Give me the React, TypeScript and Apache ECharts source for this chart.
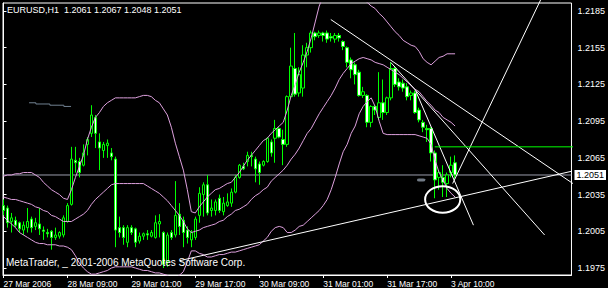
import React, { useEffect, useRef } from "react";
import * as echarts from "echarts";

const symbolName = "EURUSD,H1";
const copyrightText = "MetaTrader, _ 2001-2006 MetaQuotes Software Corp.";

const opens = [1.2026,1.2024,1.2013,1.2014,1.2012,1.2006,1.2008,1.2015,1.2009,1.2011,
1.2006,1.2004,1.2005,1.2000,1.2001,1.2002,1.2013,1.2027,1.2063,1.2062,
1.2059,1.2076,1.2085,1.2098,1.2078,1.2071,1.2075,1.2069,1.2064,1.2008,
1.2008,1.1996,1.2008,1.2007,1.1997,1.2001,1.2003,1.2001,1.2000,1.2011,
1.2004,1.1980,1.2004,1.2002,1.2019,1.2014,1.2006,1.1998,1.2000,1.2018,
1.2035,1.2043,1.2022,1.2022,1.2032,1.2021,1.2026,1.2028,1.2037,1.2049,
1.2058,1.2062,1.2067,1.2064,1.2060,1.2059,1.2062,1.2078,1.2081,1.2089,
1.2080,1.2076,1.2115,1.2138,1.2118,1.2122,1.2149,1.2155,1.2167,1.2165,
1.2167,1.2167,1.2164,1.2162,1.2165,1.2160,1.2155,1.2145,1.2141,1.2135,
1.2116,1.2116,1.2094,1.2107,1.2098,1.2110,1.2102,1.2114,1.2138,1.2127,
1.2126,1.2123,1.2116,1.2118,1.2104,1.2094,1.2089,1.2089,1.2069,1.2049,
1.2049,1.2044,1.2053,1.2061];

const closes = [1.2022,1.2012,1.2016,1.2010,1.2007,1.2010,1.2013,1.2008,1.2012,1.2007,
1.2005,1.2003,1.2000,1.2002,1.2004,1.2016,1.2026,1.2064,1.2061,1.2053,
1.2069,1.2080,1.2100,1.2085,1.2073,1.2076,1.2077,1.2066,1.2006,1.2004,
1.2000,1.2008,1.2004,1.1996,1.2001,1.2003,1.2002,1.2004,1.2012,1.2013,
1.1978,1.2002,1.2000,1.2018,1.2009,1.2004,1.2000,1.2004,1.2015,1.2036,
1.2043,1.2020,1.2024,1.2029,1.2022,1.2028,1.2029,1.2037,1.2049,1.2059,
1.2056,1.2067,1.2066,1.2056,1.2053,1.2062,1.2081,1.2069,1.2089,1.2082,
1.2076,1.2115,1.2140,1.2117,1.2133,1.2149,1.2155,1.2167,1.2164,1.2167,
1.2165,1.2162,1.2163,1.2165,1.2163,1.2156,1.2143,1.2137,1.2133,1.2116,
1.2119,1.2094,1.2107,1.2104,1.2110,1.2102,1.2114,1.2138,1.2125,1.2123,
1.2122,1.2115,1.2118,1.2102,1.2096,1.2090,1.2088,1.2069,1.2047,1.2053,
1.2045,1.2051,1.2059,1.2051];

const lows = [1.2018,1.2008,1.2004,1.2008,1.2004,1.2002,1.2004,1.2004,1.2006,1.2002,
1.1998,1.2000,1.1990,1.1998,1.1999,1.2000,1.2012,1.2026,1.2053,1.2049,
1.2058,1.2067,1.2082,1.2073,1.2055,1.2065,1.2065,1.2063,1.1992,1.2000,
1.1994,1.1992,1.2002,1.1992,1.1995,1.1998,1.1998,1.2000,1.1999,1.2000,
1.1975,1.1976,1.1998,1.2000,1.2002,1.1992,1.1995,1.1992,1.1998,1.2012,
1.2017,1.2018,1.2017,1.2018,1.2020,1.2018,1.2025,1.2025,1.2036,1.2048,
1.2055,1.2058,1.2058,1.2045,1.2043,1.2058,1.2061,1.2066,1.2061,1.2081,
1.2059,1.2074,1.2114,1.2115,1.2115,1.2115,1.2139,1.2151,1.2161,1.2163,
1.2160,1.2159,1.2160,1.2159,1.2160,1.2153,1.2139,1.2130,1.2125,1.2115,
1.2114,1.2090,1.2090,1.2100,1.2096,1.2096,1.2100,1.2112,1.2123,1.2120,
1.2119,1.2112,1.2112,1.2101,1.2094,1.2086,1.2078,1.2062,1.2032,1.2039,
1.2033,1.2033,1.2049,1.2048];

const highs = [1.2031,1.2026,1.2020,1.2017,1.2013,1.2013,1.2024,1.2017,1.2016,1.2024,
1.2009,1.2007,1.2006,1.2008,1.2005,1.2018,1.2028,1.2074,1.2074,1.2065,
1.2076,1.2082,1.2108,1.2100,1.2085,1.2078,1.2080,1.2073,1.2066,1.2017,
1.2010,1.2010,1.2010,1.2008,1.2004,1.2004,1.2006,1.2006,1.2018,1.2019,
1.2005,1.2004,1.2006,1.2046,1.2028,1.2017,1.2009,1.2006,1.2017,1.2041,
1.2045,1.2051,1.2031,1.2031,1.2035,1.2033,1.2036,1.2040,1.2051,1.2060,
1.2061,1.2070,1.2070,1.2066,1.2062,1.2063,1.2082,1.2080,1.2096,1.2090,
1.2088,1.2116,1.2155,1.2167,1.2139,1.2157,1.2159,1.2169,1.2168,1.2169,
1.2168,1.2169,1.2167,1.2167,1.2167,1.2161,1.2156,1.2147,1.2143,1.2137,
1.2123,1.2117,1.2108,1.2108,1.2135,1.2129,1.2115,1.2143,1.2140,1.2130,
1.2129,1.2126,1.2120,1.2120,1.2106,1.2096,1.2092,1.2090,1.2071,1.2055,
1.2059,1.2053,1.2066,1.2067];

const bbUpper = [1.2050,1.2051,1.2051,1.2052,1.2052,1.2053,1.2053,1.2053,1.2051,1.2049,
1.2045,1.2042,1.2039,1.2037,1.2035,1.2032,1.2031,1.2039,1.2049,1.2058,
1.2067,1.2080,1.2090,1.2098,1.2102,1.2107,1.2110,1.2112,1.2114,1.2114,
1.2114,1.2114,1.2114,1.2114,1.2115,1.2116,1.2116,1.2115,1.2112,1.2110,
1.2105,1.2100,1.2090,1.2077,1.2066,1.2055,1.2039,1.2021,1.2020,1.2025,
1.2029,1.2033,1.2036,1.2039,1.2040,1.2042,1.2044,1.2045,1.2049,1.2053,
1.2058,1.2063,1.2067,1.2071,1.2075,1.2079,1.2081,1.2085,1.2088,1.2091,
1.2094,1.2104,1.2116,1.2125,1.2135,1.2143,1.2152,1.2163,1.2176,1.2189,
1.2197,1.2202,1.2205,1.2207,1.2207,1.2205,1.2204,1.2201,1.2197,1.2196,
1.2194,1.2192,1.2189,1.2187,1.2183,1.2180,1.2176,1.2172,1.2168,1.2165,
1.2161,1.2159,1.2157,1.2156,1.2152,1.2146,1.2143,1.2141,1.2144,1.2147,
1.2148,1.2150,1.2150,1.2150];

const bbMiddle = [1.2033,1.2032,1.2031,1.2031,1.2030,1.2029,1.2028,1.2027,1.2025,1.2024,
1.2022,1.2021,1.2018,1.2017,1.2015,1.2013,1.2013,1.2013,1.2015,1.2017,
1.2019,1.2022,1.2027,1.2031,1.2034,1.2037,1.2040,1.2043,1.2044,1.2044,
1.2044,1.2044,1.2044,1.2044,1.2044,1.2044,1.2042,1.2040,1.2038,1.2036,
1.2033,1.2030,1.2026,1.2022,1.2018,1.2013,1.2007,1.2004,1.2005,1.2006,
1.2008,1.2009,1.2010,1.2011,1.2013,1.2014,1.2017,1.2019,1.2022,1.2023,
1.2025,1.2027,1.2031,1.2034,1.2036,1.2039,1.2041,1.2046,1.2049,1.2052,
1.2055,1.2059,1.2064,1.2068,1.2073,1.2079,1.2085,1.2089,1.2095,1.2101,
1.2106,1.2111,1.2116,1.2122,1.2129,1.2134,1.2138,1.2142,1.2144,1.2146,
1.2147,1.2146,1.2145,1.2143,1.2142,1.2141,1.2139,1.2137,1.2135,1.2133,
1.2130,1.2127,1.2124,1.2121,1.2119,1.2115,1.2111,1.2108,1.2104,1.2102,
1.2098,1.2096,1.2094,1.2091];

const bbLower = [1.2017,1.2014,1.2011,1.2008,1.2004,1.2002,1.2000,1.1998,1.1996,1.1995,
1.1995,1.1994,1.1994,1.1994,1.1993,1.1993,1.1992,1.1990,1.1985,1.1979,
1.1975,1.1972,1.1970,1.1970,1.1971,1.1972,1.1973,1.1975,1.1976,1.1976,
1.1976,1.1976,1.1976,1.1975,1.1974,1.1973,1.1973,1.1972,1.1971,1.1971,
1.1970,1.1969,1.1967,1.1967,1.1969,1.1972,1.1980,1.1989,1.1989,1.1987,
1.1986,1.1984,1.1984,1.1985,1.1986,1.1986,1.1987,1.1988,1.1988,1.1989,
1.1990,1.1991,1.1992,1.1993,1.1994,1.1997,1.2000,1.2005,1.2008,1.2009,
1.2008,1.2004,1.2004,1.2006,1.2009,1.2010,1.2013,1.2016,1.2019,1.2022,
1.2026,1.2031,1.2039,1.2049,1.2060,1.2070,1.2076,1.2085,1.2091,1.2101,
1.2107,1.2111,1.2114,1.2107,1.2095,1.2085,1.2084,1.2084,1.2084,1.2084,
1.2084,1.2084,1.2084,1.2084,1.2083,1.2082,1.2081,1.2076,1.2063,1.2053,
1.2047,1.2040,1.2036,1.2033];

const tickIndex = [0, 16, 32, 48, 64, 80, 96, 112];
const tickLabels = ["27 Mar 2006", "28 Mar 09:00", "29 Mar 01:00", "29 Mar 17:00", "30 Mar 09:00", "31 Mar 01:00", "31 Mar 17:00", "3 Apr 10:00"];
const priceTicks = [1.1975, 1.2005, 1.2035, 1.2065, 1.2095, 1.2125, 1.2155, 1.2185];

// drawn objects: anchor points as [bar index, price]
const supportLine = [[44.1, 1.1981], [142.1, 1.2054]];
const trendLineA = [[81.9, 1.2178], [151.1, 1.2025]];
const trendLineB = [[96.9, 1.2143], [135.4, 1.2002]];
const trendLineC = [[103.1, 1.2120], [117.6, 1.2010]];
const trendLineD = [[112.4, 1.2044], [134.4, 1.2194]];
const greenLevel = [[107.9, 1.2074], [151.1, 1.2074]];
const slateSegment = [[6.4, 1.2110], [8.1, 1.2110], [8.1, 1.2109], [11.6, 1.2109], [11.6, 1.2108], [15.1, 1.2108], [15.1, 1.2107], [16.9, 1.2107]];
const blobMark = [104.5, 1.2047];
const ellipseMark = [109.9, 1.2031, 4.4, 0.00109];

const X_MIN = -0.125;
const X_MAX = 142.125;
const Y_MIN = 1.19693;
const Y_MAX = 1.21915;

export default function App() {
  const ref = useRef<HTMLDivElement>(null);
  useEffect(() => {
    document.body.style.margin = "0";
    const chart = echarts.init(ref.current!, undefined, { renderer: "svg" });
    const last = opens.length - 1;
    const fontFamily = '"Liberation Sans", Arial, sans-serif';
    const candleData = opens.map((o, i) => [i, o, closes[i], lows[i], highs[i]]);
    const toXY = (arr: number[]) => arr.map((v, i) => [i, v]);
    const line = (data: any, color: string, clip: boolean, z = 3) => ({
      type: "line",
      data,
      symbol: "none",
      clip,
      silent: true,
      z,
      lineStyle: { color, width: 1 },
    });
    const headerText = `${symbolName}  ${opens[last].toFixed(4)} ${highs[last].toFixed(4)} ${lows[last].toFixed(4)} ${closes[last].toFixed(4)}`;

    chart.setOption({
      animation: false,
      backgroundColor: "#000",
      grid: { left: 3, right: 36, top: 3, bottom: 13, show: true, borderColor: "#fff", borderWidth: 1, backgroundColor: "transparent" },
      xAxis: {
        type: "value",
        min: X_MIN,
        max: X_MAX,
        axisLine: { show: true, lineStyle: { color: "#fff", width: 1 } },
        axisTick: { show: true, customValues: tickIndex, length: 3, lineStyle: { color: "#fff" } },
        axisLabel: {
          customValues: tickIndex,
          formatter: (v: number) => {
            const k = tickIndex.indexOf(Math.round(v));
            return k >= 0 ? tickLabels[k] : "";
          },
          color: "#fff",
          fontSize: 8.5,
          fontFamily,
          align: "left",
          margin: 4,
        },
        splitLine: { show: false },
      },
      yAxis: {
        type: "value",
        position: "right",
        min: Y_MIN,
        max: Y_MAX,
        axisLine: { show: true, lineStyle: { color: "#fff", width: 1 } },
        axisTick: { show: true, customValues: priceTicks, length: 3, lineStyle: { color: "#fff" } },
        axisLabel: {
          customValues: priceTicks,
          formatter: (v: number) => v.toFixed(4),
          color: "#fff",
          fontSize: 9,
          fontFamily,
          margin: 6,
        },
        splitLine: { show: false },
      },
      graphic: [
        { type: "text", left: 7, top: 5, z: 100, style: { text: headerText, fill: "#fff", font: `9px ${fontFamily}` } },
        { type: "text", left: 6, top: 257, z: 100, style: { text: copyrightText, fill: "#fff", font: `10px ${fontFamily}` } },
      ],
      series: [
        {
          ...line([[X_MIN, closes[last]], [X_MAX, closes[last]]], "#9a9cab", true, 1),
          endLabel: {
            show: true,
            formatter: () => closes[last].toFixed(4),
            color: "#000",
            backgroundColor: "#fff",
            fontSize: 9,
            fontFamily,
            padding: [1, 2, 0, 2],
            distance: 3,
          },
        },
        line(slateSegment, "#708090", true, 1),
        {
          type: "candlestick",
          data: candleData,
          barWidth: 3,
          silent: true,
          z: 2,
          itemStyle: {
            color: "#000",
            color0: "#fff",
            borderColor: "#00ff00",
            borderColor0: "#00ff00",
            borderColorDoji: "#00ff00",
            borderWidth: 1,
          },
        },
        line(toXY(bbUpper), "#dda0dd", true),
        line(toXY(bbMiddle), "#dda0dd", true),
        line(toXY(bbLower), "#dda0dd", true),
        line(supportLine, "#ffffff", false, 4),
        line(trendLineA, "#ffffff", false, 4),
        line(trendLineB, "#ffffff", false, 4),
        line(trendLineC, "#ffffff", false, 4),
        line(trendLineD, "#ffffff", false, 4),
        line(greenLevel, "#00ff00", false, 4),
        {
          type: "scatter",
          data: [blobMark],
          symbol: "roundRect",
          symbolSize: [8, 3],
          silent: true,
          z: 4,
          itemStyle: { color: "#8f9aa8" },
        },
        {
          type: "custom",
          data: [ellipseMark],
          clip: false,
          silent: true,
          z: 5,
          renderItem: (params: any, api: any) => {
            const c = api.coord([api.value(0), api.value(1)]);
            const s = api.size([api.value(2), api.value(3)]);
            return {
              type: "ellipse",
              shape: { cx: c[0], cy: c[1], rx: s[0], ry: s[1] },
              style: { fill: "none", stroke: "#fff", lineWidth: 2 },
            };
          },
        },
      ],
    });
    return () => chart.dispose();
  }, []);
  return <div ref={ref} style={{ position: "fixed", left: 0, top: 0, width: 608, height: 288, background: "#000" }} />;
}
